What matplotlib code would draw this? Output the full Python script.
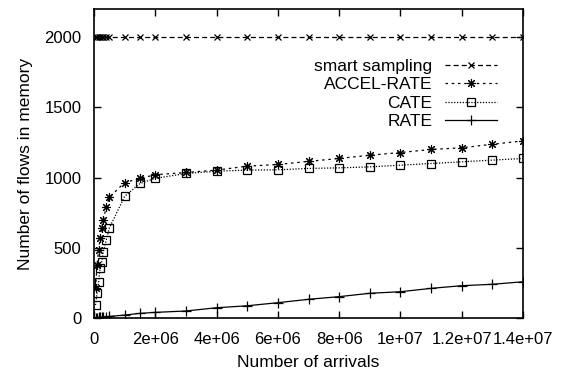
import matplotlib
matplotlib.use("Agg")
import matplotlib.pyplot as plt

arrivals = [5e4, 1e5, 1.5e5, 2e5, 2.5e5, 3e5, 4e5, 5e5, 1e6, 1.5e6, 2e6,
            3e6, 4e6, 5e6, 6e6, 7e6, 8e6, 9e6, 1e7, 1.1e7, 1.2e7, 1.3e7, 1.4e7]
smart_sampling = [2000] * len(arrivals)
accel_rate = [213, 377, 484, 569, 640, 697, 790, 860, 964, 994, 1020,
              1036, 1053, 1081, 1093, 1115, 1136, 1159, 1178, 1200, 1212, 1237, 1261]
cate = [92, 178, 256, 356, 398, 469, 555, 640, 866, 958, 994,
        1029, 1045, 1053, 1055, 1065, 1069, 1076, 1088, 1100, 1112, 1124, 1136]
rate = [2, 3, 4, 5, 6, 7, 9, 11, 21, 33, 40,
        50, 73, 87, 109, 133, 152, 176, 187, 211, 230, 240, 258]

xticks = [0, 2e6, 4e6, 6e6, 8e6, 1e7, 1.2e7, 1.4e7]
xtick_labels = ["0", "2e+06", "4e+06", "6e+06", "8e+06", "1e+07", "1.2e+07", "1.4e+07"]
yticks = [0, 500, 1000, 1500, 2000]

plt.rcParams['font.family'] = ['Liberation Sans', 'DejaVu Sans']
plt.rcParams['font.size'] = 12

fig = plt.figure(figsize=(5.66, 3.72), dpi=100)
ax = fig.add_axes([94/566, 54/372, (523-94)/566, (318-9)/372])

ax.plot(arrivals, smart_sampling, color='black', lw=0.9, ls=(0, (4, 2.5)),
        marker='x', ms=5, mew=0.9, label='smart sampling')
ax.plot(arrivals, accel_rate, color='black', lw=0.9, ls=(0, (2, 3)),
        marker=(8, 2, 0), ms=6.5, mew=0.8, label='ACCEL-RATE')
ax.plot(arrivals, cate, color='black', lw=0.9, ls=(0, (1, 1.3)),
        marker='s', ms=5.8, mew=0.9, fillstyle='none', label='CATE')
ax.plot(arrivals, rate, color='black', lw=0.9, ls='-',
        marker='+', ms=6.5, mew=0.9, label='RATE')

ax.set_xlim(0, 1.4e7)
ax.set_ylim(0, 2200)
ax.set_xticks(xticks, xtick_labels)
ax.set_yticks(yticks)
ax.tick_params(direction='in', top=True, right=True, length=5, width=1)
ax.tick_params(axis='x', pad=10)
ax.tick_params(axis='y', pad=9)
for s in ax.spines.values():
    s.set_linewidth(1.2)

ax.set_xlabel('Number of arrivals', labelpad=6, fontsize=12.5)
ax.set_ylabel('Number of flows in memory', labelpad=8, fontsize=12.5)

leg = ax.legend(loc='upper right', bbox_to_anchor=(0.939, 0.838), frameon=False,
                markerfirst=False, handlelength=3.0, labelspacing=0.18,
                handletextpad=0.7, borderpad=0, borderaxespad=0, fontsize=12.5)

fig.savefig('out.png', dpi=100)
